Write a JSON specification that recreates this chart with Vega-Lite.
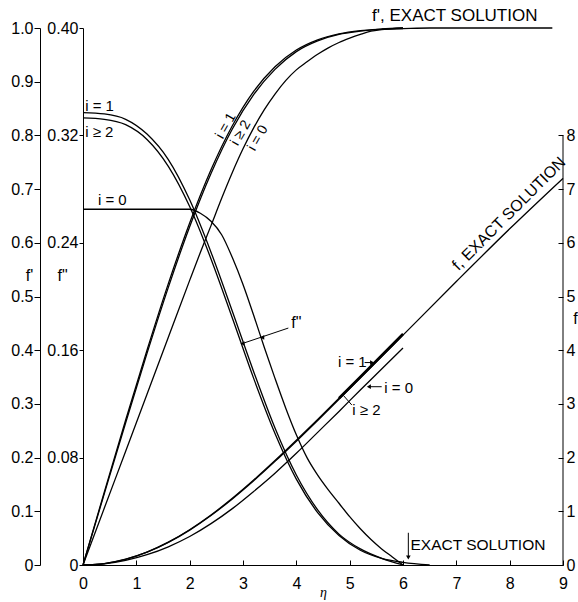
{
  "$schema": "https://vega.github.io/schema/vega-lite/v6.json",
  "width": 480,
  "height": 537,
  "autosize": {"type": "none"},
  "padding": {"left": 83, "top": 28, "right": 15, "bottom": 37},
  "background": "white",
  "config": {
    "view": {"stroke": null},
    "axis": {"labelFont": "Liberation Sans", "labelFontSize": 16, "labelColor": "black", "domainColor": "black", "tickColor": "black", "titleFont": "Liberation Sans", "titleFontSize": 16, "titleFontWeight": "normal", "titleColor": "black", "grid": false, "labelOverlap": false, "labelFlush": false},
    "text": {"font": "Liberation Sans", "color": "black"},
    "line": {"color": "black", "strokeWidth": 1.3, "interpolate": "monotone"},
    "rule": {"color": "black", "strokeWidth": 1},
    "point": {"color": "black", "filled": true, "opacity": 1}
  },
  "datasets": {
    "fp": [
      {"s": "i=1", "eta": 0, "fp": 0}, {"s": "i=1", "eta": 0.4, "fp": 0.136}, {"s": "i=1", "eta": 0.8, "fp": 0.27}, {"s": "i=1", "eta": 1.2, "fp": 0.4}, {"s": "i=1", "eta": 1.6, "fp": 0.524}, {"s": "i=1", "eta": 2.0, "fp": 0.637}, {"s": "i=1", "eta": 2.4, "fp": 0.736}, {"s": "i=1", "eta": 2.8, "fp": 0.818}, {"s": "i=1", "eta": 3.2, "fp": 0.882}, {"s": "i=1", "eta": 3.6, "fp": 0.928}, {"s": "i=1", "eta": 4.0, "fp": 0.959}, {"s": "i=1", "eta": 4.4, "fp": 0.978}, {"s": "i=1", "eta": 4.8, "fp": 0.989}, {"s": "i=1", "eta": 5.2, "fp": 0.995}, {"s": "i=1", "eta": 5.6, "fp": 0.998}, {"s": "i=1", "eta": 6.0, "fp": 1.0},
      {"s": "i≥2", "eta": 0, "fp": 0}, {"s": "i≥2", "eta": 0.4, "fp": 0.133}, {"s": "i≥2", "eta": 0.8, "fp": 0.265}, {"s": "i≥2", "eta": 1.2, "fp": 0.394}, {"s": "i≥2", "eta": 1.6, "fp": 0.517}, {"s": "i≥2", "eta": 2.0, "fp": 0.63}, {"s": "i≥2", "eta": 2.4, "fp": 0.729}, {"s": "i≥2", "eta": 2.8, "fp": 0.812}, {"s": "i≥2", "eta": 3.2, "fp": 0.876}, {"s": "i≥2", "eta": 3.6, "fp": 0.923}, {"s": "i≥2", "eta": 4.0, "fp": 0.956}, {"s": "i≥2", "eta": 4.4, "fp": 0.976}, {"s": "i≥2", "eta": 4.8, "fp": 0.988}, {"s": "i≥2", "eta": 5.2, "fp": 0.994}, {"s": "i≥2", "eta": 5.6, "fp": 0.998}, {"s": "i≥2", "eta": 6.0, "fp": 0.999},
      {"s": "i=0", "eta": 0, "fp": 0}, {"s": "i=0", "eta": 0.4, "fp": 0.106}, {"s": "i=0", "eta": 0.8, "fp": 0.212}, {"s": "i=0", "eta": 1.2, "fp": 0.318}, {"s": "i=0", "eta": 1.6, "fp": 0.424}, {"s": "i=0", "eta": 2.0, "fp": 0.53}, {"s": "i=0", "eta": 2.2, "fp": 0.582}, {"s": "i=0", "eta": 2.4, "fp": 0.632}, {"s": "i=0", "eta": 2.6, "fp": 0.683}, {"s": "i=0", "eta": 2.8, "fp": 0.731}, {"s": "i=0", "eta": 3.0, "fp": 0.775}, {"s": "i=0", "eta": 3.2, "fp": 0.814}, {"s": "i=0", "eta": 3.4, "fp": 0.848}, {"s": "i=0", "eta": 3.6, "fp": 0.877}, {"s": "i=0", "eta": 3.8, "fp": 0.902}, {"s": "i=0", "eta": 4.0, "fp": 0.922}, {"s": "i=0", "eta": 4.2, "fp": 0.937}, {"s": "i=0", "eta": 4.4, "fp": 0.951}, {"s": "i=0", "eta": 4.6, "fp": 0.963}, {"s": "i=0", "eta": 4.8, "fp": 0.973}, {"s": "i=0", "eta": 5.0, "fp": 0.981}, {"s": "i=0", "eta": 5.2, "fp": 0.988}, {"s": "i=0", "eta": 5.4, "fp": 0.994}, {"s": "i=0", "eta": 5.6, "fp": 0.997}, {"s": "i=0", "eta": 5.8, "fp": 0.999}, {"s": "i=0", "eta": 6.0, "fp": 1.0},
      {"s": "exact", "eta": 5.6, "fp": 0.998}, {"s": "exact", "eta": 6.0, "fp": 0.999}, {"s": "exact", "eta": 6.5, "fp": 1.0}, {"s": "exact", "eta": 7.0, "fp": 1.0}, {"s": "exact", "eta": 8.0, "fp": 1.0}, {"s": "exact", "eta": 8.8, "fp": 1.0}
    ],
    "fpp": [
      {"s": "i=1", "eta": 0, "fpp": 0.337}, {"s": "i=1", "eta": 0.4, "fpp": 0.336}, {"s": "i=1", "eta": 0.8, "fpp": 0.332}, {"s": "i=1", "eta": 1.2, "fpp": 0.321}, {"s": "i=1", "eta": 1.6, "fpp": 0.302}, {"s": "i=1", "eta": 2.0, "fpp": 0.272}, {"s": "i=1", "eta": 2.4, "fpp": 0.233}, {"s": "i=1", "eta": 2.8, "fpp": 0.189}, {"s": "i=1", "eta": 3.2, "fpp": 0.144}, {"s": "i=1", "eta": 3.6, "fpp": 0.102}, {"s": "i=1", "eta": 4.0, "fpp": 0.067}, {"s": "i=1", "eta": 4.4, "fpp": 0.041}, {"s": "i=1", "eta": 4.8, "fpp": 0.023}, {"s": "i=1", "eta": 5.2, "fpp": 0.012}, {"s": "i=1", "eta": 5.6, "fpp": 0.005}, {"s": "i=1", "eta": 6.0, "fpp": 0.0},
      {"s": "i≥2", "eta": 0, "fpp": 0.333}, {"s": "i≥2", "eta": 0.4, "fpp": 0.332}, {"s": "i≥2", "eta": 0.8, "fpp": 0.328}, {"s": "i≥2", "eta": 1.2, "fpp": 0.317}, {"s": "i≥2", "eta": 1.6, "fpp": 0.297}, {"s": "i≥2", "eta": 2.0, "fpp": 0.267}, {"s": "i≥2", "eta": 2.4, "fpp": 0.228}, {"s": "i≥2", "eta": 2.8, "fpp": 0.184}, {"s": "i≥2", "eta": 3.2, "fpp": 0.139}, {"s": "i≥2", "eta": 3.6, "fpp": 0.098}, {"s": "i≥2", "eta": 4.0, "fpp": 0.064}, {"s": "i≥2", "eta": 4.4, "fpp": 0.039}, {"s": "i≥2", "eta": 4.8, "fpp": 0.022}, {"s": "i≥2", "eta": 5.2, "fpp": 0.011}, {"s": "i≥2", "eta": 5.6, "fpp": 0.005}, {"s": "i≥2", "eta": 6.0, "fpp": 0.002}, {"s": "i≥2", "eta": 6.5, "fpp": 0.0},
      {"s": "i=0", "eta": 0, "fpp": 0.265}, {"s": "i=0", "eta": 0.5, "fpp": 0.265}, {"s": "i=0", "eta": 1.0, "fpp": 0.265}, {"s": "i=0", "eta": 1.5, "fpp": 0.265}, {"s": "i=0", "eta": 2.0, "fpp": 0.265}, {"s": "i=0", "eta": 2.2, "fpp": 0.262}, {"s": "i=0", "eta": 2.4, "fpp": 0.256}, {"s": "i=0", "eta": 2.6, "fpp": 0.246}, {"s": "i=0", "eta": 2.8, "fpp": 0.229}, {"s": "i=0", "eta": 3.0, "fpp": 0.209}, {"s": "i=0", "eta": 3.2, "fpp": 0.186}, {"s": "i=0", "eta": 3.4, "fpp": 0.162}, {"s": "i=0", "eta": 3.6, "fpp": 0.139}, {"s": "i=0", "eta": 3.8, "fpp": 0.117}, {"s": "i=0", "eta": 4.0, "fpp": 0.097}, {"s": "i=0", "eta": 4.2, "fpp": 0.08}, {"s": "i=0", "eta": 4.4, "fpp": 0.067}, {"s": "i=0", "eta": 4.6, "fpp": 0.056}, {"s": "i=0", "eta": 4.8, "fpp": 0.046}, {"s": "i=0", "eta": 5.0, "fpp": 0.036}, {"s": "i=0", "eta": 5.2, "fpp": 0.027}, {"s": "i=0", "eta": 5.4, "fpp": 0.019}, {"s": "i=0", "eta": 5.6, "fpp": 0.012}, {"s": "i=0", "eta": 5.8, "fpp": 0.006}, {"s": "i=0", "eta": 6.0, "fpp": 0.0}
    ],
    "f": [
      {"s": "exact", "eta": 0, "f": 0}, {"s": "exact", "eta": 0.4, "f": 0.027}, {"s": "exact", "eta": 0.8, "f": 0.106}, {"s": "exact", "eta": 1.2, "f": 0.238}, {"s": "exact", "eta": 1.6, "f": 0.42}, {"s": "exact", "eta": 2.0, "f": 0.65}, {"s": "exact", "eta": 2.4, "f": 0.922}, {"s": "exact", "eta": 2.8, "f": 1.231}, {"s": "exact", "eta": 3.2, "f": 1.569}, {"s": "exact", "eta": 3.6, "f": 1.93}, {"s": "exact", "eta": 4.0, "f": 2.306}, {"s": "exact", "eta": 4.4, "f": 2.692}, {"s": "exact", "eta": 4.8, "f": 3.085}, {"s": "exact", "eta": 5.2, "f": 3.482}, {"s": "exact", "eta": 5.6, "f": 3.88}, {"s": "exact", "eta": 6.0, "f": 4.28}, {"s": "exact", "eta": 7.0, "f": 5.279}, {"s": "exact", "eta": 8.0, "f": 6.26}, {"s": "exact", "eta": 9.0, "f": 7.2},
      {"s": "i=1", "eta": 0, "f": 0}, {"s": "i=1", "eta": 0.4, "f": 0.027}, {"s": "i=1", "eta": 0.8, "f": 0.108}, {"s": "i=1", "eta": 1.2, "f": 0.241}, {"s": "i=1", "eta": 1.6, "f": 0.425}, {"s": "i=1", "eta": 2.0, "f": 0.657}, {"s": "i=1", "eta": 2.4, "f": 0.931}, {"s": "i=1", "eta": 2.8, "f": 1.242}, {"s": "i=1", "eta": 3.2, "f": 1.582}, {"s": "i=1", "eta": 3.6, "f": 1.945}, {"s": "i=1", "eta": 4.0, "f": 2.323}, {"s": "i=1", "eta": 4.4, "f": 2.711}, {"s": "i=1", "eta": 4.8, "f": 3.105}, {"s": "i=1", "eta": 5.2, "f": 3.503}, {"s": "i=1", "eta": 5.6, "f": 3.902}, {"s": "i=1", "eta": 6.0, "f": 4.302},
      {"s": "i=0", "eta": 0, "f": 0}, {"s": "i=0", "eta": 0.4, "f": 0.021}, {"s": "i=0", "eta": 0.8, "f": 0.085}, {"s": "i=0", "eta": 1.2, "f": 0.191}, {"s": "i=0", "eta": 1.6, "f": 0.339}, {"s": "i=0", "eta": 2.0, "f": 0.53}, {"s": "i=0", "eta": 2.4, "f": 0.77}, {"s": "i=0", "eta": 2.8, "f": 1.05}, {"s": "i=0", "eta": 3.2, "f": 1.37}, {"s": "i=0", "eta": 3.6, "f": 1.71}, {"s": "i=0", "eta": 4.0, "f": 2.08}, {"s": "i=0", "eta": 4.4, "f": 2.47}, {"s": "i=0", "eta": 4.8, "f": 2.86}, {"s": "i=0", "eta": 5.2, "f": 3.26}, {"s": "i=0", "eta": 5.6, "f": 3.65}, {"s": "i=0", "eta": 6.0, "f": 4.04}
    ]
  },
  "encoding": {
    "x": {"field": "eta", "type": "quantitative", "scale": {"domain": [0, 9], "nice": false},
      "axis": {"values": [0, 1, 2, 3, 4, 5, 6, 7, 8, 9], "format": "d", "tickSize": -5, "labelPadding": 15, "title": "η", "titleFont": "Liberation Serif", "titleFontStyle": "italic", "titleFontSize": 14, "titleY": 27, "titleBaseline": "middle"}}
  },
  "layer": [
    {
      "layer": [
        {"data": {"name": "fp"}, "mark": {"type": "line"},
         "encoding": {"y": {"field": "fp", "type": "quantitative", "scale": {"domain": [0, 1], "nice": false},
           "axis": {"orient": "left", "offset": 43, "values": [0, 0.1, 0.2, 0.3, 0.4, 0.5, 0.6, 0.7, 0.8, 0.9, 1], "labelExpr": "datum.value == 0 ? '0' : format(datum.value, '.1f')", "tickSize": 6, "labelPadding": 1, "title": "f'", "titleAngle": 0, "titleX": -11, "titleY": 247, "titleAlign": "center", "titleBaseline": "middle"}},
           "detail": {"field": "s"}}},
        {"data": {"values": [{"eta": 5.42, "fp": 1.013, "label": "f', EXACT SOLUTION"}]}, "mark": {"type": "text", "align": "left", "baseline": "alphabetic", "fontSize": 17},
         "encoding": {"y": {"field": "fp", "type": "quantitative"}, "text": {"field": "label"}}},
        {"data": {"values": [{"eta": 6.14, "fp": 0.028, "label": "EXACT SOLUTION"}]}, "mark": {"type": "text", "align": "left", "baseline": "alphabetic", "fontSize": 15.5},
         "encoding": {"y": {"field": "fp", "type": "quantitative"}, "text": {"field": "label"}}},
        {"data": {"values": [{"eta": 2.68, "fp": 0.8175, "label": "i = 1"}, {"eta": 2.96, "fp": 0.8045, "label": "i ≥ 2"}, {"eta": 3.28, "fp": 0.795, "label": "i = 0"}]}, "mark": {"type": "text", "align": "center", "baseline": "middle", "fontSize": 14, "angle": 300},
         "encoding": {"y": {"field": "fp", "type": "quantitative"}, "text": {"field": "label"}}},
        {"data": {"values": [{"eta": 6.1, "fp": 0.06, "eta2": 6.1, "fp2": 0.014}]}, "mark": {"type": "rule"},
         "encoding": {"x2": {"field": "eta2"}, "y": {"field": "fp", "type": "quantitative"}, "y2": {"field": "fp2"}}},
        {"data": {"values": [{"eta": 6.1, "fp": 0.014}]}, "mark": {"type": "point", "shape": "triangle-down", "size": 22},
         "encoding": {"y": {"field": "fp", "type": "quantitative"}}}
      ]
    },
    {
      "layer": [
        {"data": {"name": "fpp"}, "mark": {"type": "line"},
         "encoding": {"y": {"field": "fpp", "type": "quantitative", "scale": {"domain": [0, 0.4], "nice": false},
           "axis": {"orient": "left", "offset": 0, "values": [0, 0.08, 0.16, 0.24, 0.32, 0.4], "labelExpr": "datum.value == 0 ? '0' : format(datum.value, '.2f')", "tickSize": 4, "labelPadding": 1, "title": "f\"", "titleAngle": 0, "titleX": -21, "titleY": 247, "titleAlign": "center", "titleBaseline": "middle"}},
           "detail": {"field": "s"}}},
        {"data": {"values": [{"eta": 0.04, "fpp": 0.3385, "label": "i = 1"}, {"eta": 0.04, "fpp": 0.3188, "label": "i ≥ 2"}, {"eta": 0.28, "fpp": 0.268, "label": "i = 0"}]}, "mark": {"type": "text", "align": "left", "baseline": "alphabetic", "fontSize": 15},
         "encoding": {"y": {"field": "fpp", "type": "quantitative"}, "text": {"field": "label"}}},
        {"data": {"values": [{"eta": 4.0, "fpp": 0.18, "label": "f\""}]}, "mark": {"type": "text", "align": "center", "baseline": "middle", "fontSize": 16},
         "encoding": {"y": {"field": "fpp", "type": "quantitative"}, "text": {"field": "label"}}},
        {"data": {"values": [{"eta": 3.85, "fpp": 0.1765, "eta2": 2.99, "fpp2": 0.165}]}, "mark": {"type": "rule"},
         "encoding": {"x2": {"field": "eta2"}, "y": {"field": "fpp", "type": "quantitative"}, "y2": {"field": "fpp2"}}},
        {"data": {"values": [{"eta": 3.36, "fpp": 0.1695}, {"eta": 2.99, "fpp": 0.165}]}, "mark": {"type": "point", "shape": "triangle-left", "size": 22},
         "encoding": {"y": {"field": "fpp", "type": "quantitative"}}}
      ]
    },
    {
      "layer": [
        {"data": {"name": "f"}, "mark": {"type": "line"},
         "encoding": {"y": {"field": "f", "type": "quantitative", "scale": {"domain": [0, 10], "nice": false},
           "axis": {"orient": "right", "domain": false, "values": [0, 1, 2, 3, 4, 5, 6, 7, 8], "format": "d", "tickSize": -5, "labelPadding": 8, "title": "f", "titleAngle": 0, "titleX": 12, "titleY": 290, "titleAlign": "center", "titleBaseline": "middle"}},
           "detail": {"field": "s"}}},
        {"data": {"name": "f"}, "transform": [{"filter": "datum.s == 'i=1' && datum.eta >= 4.8"}], "mark": {"type": "line", "strokeWidth": 2.6},
         "encoding": {"y": {"field": "f", "type": "quantitative"}}},
        {"data": {"values": [{"eta": 9, "f": 0, "eta2": 9, "f2": 8}, {"eta": 5.28, "f": 3.77, "eta2": 5.42, "f2": 3.77}, {"eta": 5.36, "f": 3.32, "eta2": 5.6, "f2": 3.32}, {"eta": 4.88, "f": 3.16, "eta2": 5.04, "f2": 2.98}]}, "mark": {"type": "rule"},
         "encoding": {"x2": {"field": "eta2"}, "y": {"field": "f", "type": "quantitative"}, "y2": {"field": "f2"}}},
        {"data": {"values": [{"eta": 5.42, "f": 3.77}]}, "mark": {"type": "point", "shape": "triangle-right", "size": 22},
         "encoding": {"y": {"field": "f", "type": "quantitative"}}},
        {"data": {"values": [{"eta": 5.36, "f": 3.32}]}, "mark": {"type": "point", "shape": "triangle-left", "size": 22},
         "encoding": {"y": {"field": "f", "type": "quantitative"}}},
        {"data": {"values": [{"eta": 4.78, "f": 3.68, "label": "i = 1"}, {"eta": 5.65, "f": 3.2, "label": "i = 0"}, {"eta": 5.05, "f": 2.79, "label": "i ≥ 2"}]}, "mark": {"type": "text", "align": "left", "baseline": "alphabetic", "fontSize": 15},
         "encoding": {"y": {"field": "f", "type": "quantitative"}, "text": {"field": "label"}}},
        {"data": {"values": [{"eta": 7.04, "f": 5.47, "label": "f, EXACT SOLUTION"}]}, "mark": {"type": "text", "align": "left", "baseline": "alphabetic", "fontSize": 16, "angle": 315},
         "encoding": {"y": {"field": "f", "type": "quantitative"}, "text": {"field": "label"}}}
      ]
    }
  ],
  "resolve": {"scale": {"y": "independent"}}
}
